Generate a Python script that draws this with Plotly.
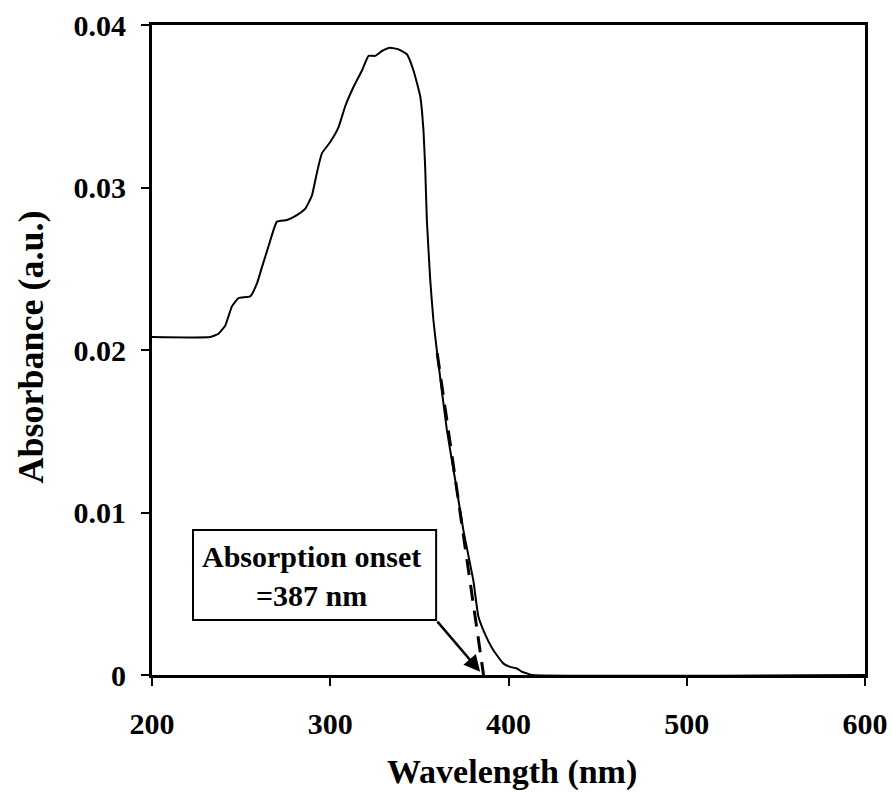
import plotly.graph_objects as go

# Spectrum
wavelength = [200, 232.7, 237.3, 241.1, 244.9, 248.6, 255.1, 258.9, 261.7, 265.4, 270.1,
              275.7, 281.3, 286.0, 289.7, 292.5, 295.3, 300.0, 304.6, 308.4, 313.1,
              317.8, 321.5, 325.2, 329.0, 333.6, 338.3, 343.0, 346.7, 350.5, 352.3,
              353.3, 354.2, 356.1, 357.9, 360.2, 365.4, 370.1, 374.7, 380.3, 383.1,
              386.9, 390.6, 393.6, 397.2, 400.9, 404.7, 407.5, 410.3, 413.3, 600]
absorbance = [0.0208, 0.0208, 0.0210, 0.0215, 0.0227, 0.0232, 0.0233, 0.0241, 0.0251, 0.0264, 0.0279,
              0.0280, 0.0283, 0.0287, 0.0295, 0.0309, 0.0321, 0.0328, 0.0337, 0.0350, 0.0362,
              0.0372, 0.0381, 0.0381, 0.0384, 0.0386, 0.0385, 0.0382, 0.0372, 0.0356, 0.0335,
              0.0311, 0.0280, 0.0243, 0.0218, 0.0196, 0.0151, 0.0120, 0.0089, 0.0058, 0.0036,
              0.0025, 0.0017, 0.0012, 0.0007, 0.0005, 0.0004, 0.0002, 0.0001, 0.0, 0.0]

# Tangent (onset) line
tangent_x = [360.0, 386.0]
tangent_y = [0.0198, 0.0]

x_ticks = [200, 300, 400, 500, 600]
y_ticks = [0, 0.01, 0.02, 0.03, 0.04]
y_tick_labels = ["0", "0.01", "0.02", "0.03", "0.04"]

x_title = "Wavelength (nm)"
y_title = "Absorbance (a.u.)"
onset_label = "Absorption onset<br>=387 nm"
box_x = [223.0, 359.4]
box_y = [0.00338, 0.00892]
label_pos = (289.3, 0.0061)
arrow_tail = (359.4, 0.00338)
arrow_tip = (384.1, 0.0002)

FONT = "Liberation Serif, Times New Roman, serif"

fig = go.Figure()
fig.add_trace(go.Scatter(x=wavelength, y=absorbance, mode="lines",
                         line=dict(color="black", width=2, shape="spline", smoothing=0.4),
                         showlegend=False, hoverinfo="skip"))
fig.add_trace(go.Scatter(x=tangent_x, y=tangent_y, mode="lines",
                         line=dict(color="black", width=3, dash="16px,10px"),
                         showlegend=False, hoverinfo="skip"))

fig.add_shape(type="rect", xref="x", yref="y", x0=box_x[0], x1=box_x[1], y0=box_y[0], y1=box_y[1],
              line=dict(color="black", width=2), fillcolor="white", layer="above")
fig.add_annotation(x=label_pos[0], y=label_pos[1], xref="x", yref="y", text=onset_label,
                   showarrow=False, font=dict(family=FONT, size=30, color="black", weight="bold"),
                   align="center")
fig.add_annotation(x=arrow_tip[0], y=arrow_tip[1], ax=arrow_tail[0], ay=arrow_tail[1],
                   xref="x", yref="y", axref="x", ayref="y", text="", showarrow=True,
                   arrowhead=2, arrowsize=1.3, arrowwidth=2.5, arrowcolor="black")

# Axis titles
fig.add_annotation(x=0.505, y=-0.149, xref="paper", yref="paper", text=x_title, showarrow=False,
                   xanchor="center", yanchor="middle",
                   font=dict(family=FONT, size=34, color="black", weight="bold"))
fig.add_annotation(x=-0.17, y=0.505, xref="paper", yref="paper", text=y_title, showarrow=False,
                   xanchor="center", yanchor="middle", textangle=-90,
                   font=dict(family=FONT, size=36, color="black", weight="bold"))

fig.update_layout(
    width=892, height=792,
    margin=dict(l=152, r=27, t=25, b=117),
    paper_bgcolor="white", plot_bgcolor="white",
    font=dict(family=FONT, color="black"),
)
fig.update_xaxes(range=[200, 600], tickvals=x_ticks, ticks="outside", ticklen=8, tickwidth=2,
                 tickcolor="black", showline=True, linewidth=3, linecolor="black", mirror=True,
                 showgrid=False, zeroline=False, automargin=False, ticklabeloverflow="allow",
                 tickfont=dict(family=FONT, size=30, weight="bold"), ticklabelstandoff=12)
fig.update_yaxes(range=[0, 0.04], tickvals=y_ticks, ticktext=y_tick_labels, ticks="outside",
                 ticklen=8, tickwidth=2, tickcolor="black", showline=True, linewidth=3,
                 linecolor="black", mirror=True, showgrid=False, zeroline=False, automargin=False,
                 tickfont=dict(family=FONT, size=30, weight="bold"), ticklabelstandoff=9)

fig.write_html(
    "out.html",
    config={"displayModeBar": False},
    post_script="document.documentElement.style.overflow='hidden';"
                "document.body.style.margin='0';document.body.style.overflow='hidden';",
)
